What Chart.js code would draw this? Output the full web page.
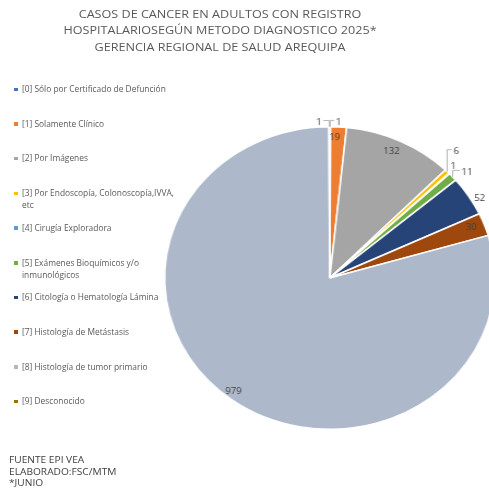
<!DOCTYPE html>
<html>
<head>
<meta charset="utf-8">
<script src="https://cdn.jsdelivr.net/npm/chart.js@4.4.1/dist/chart.umd.min.js"></script>
<style>
  body { margin: 0; width: 489px; height: 488px; overflow: hidden; background: #fff; position: relative; font-family: 'Open Sans', sans-serif; }
  #title { position: absolute; top: 6px; left: 20px; width: 400px; text-align: center; color: #595959; font-size: 10.5px; line-height: 16.3px; transform: scaleX(1.2); transform-origin: 200px 0; white-space: nowrap; }
  #wrap { position: absolute; left: 0; top: 0; width: 460px; height: 488px; transform: scaleX(1.092); transform-origin: 0 0; }
  #legend .item { position: absolute; left: 14px; width: 170px; font-size: 8.4px; line-height: 12px; color: #595959; }
  #legend .box { position: absolute; left: 0; top: 4.5px; width: 3.5px; height: 3.5px; }
  #legend .txt { position: absolute; left: 8px; width: 158px; }
  #footer { position: absolute; left: 9px; top: 454px; font-size: 9px; line-height: 11.5px; color: #404040; transform: scaleX(1.13); transform-origin: 0 0; }
</style>
</head>
<body>
<div id="wrap"><canvas id="pie"></canvas></div>
<div id="title">CASOS DE CANCER EN ADULTOS CON REGISTRO<br>HOSPITALARIOSEGÚN METODO DIAGNOSTICO 2025*<br>GERENCIA REGIONAL DE SALUD AREQUIPA</div>
<div id="legend"></div>
<div id="footer">FUENTE EPI VEA<br>ELABORADO:FSC/MTM<br>*JUNIO</div>
<script>
const categories = [
    '[0] Sólo por Certificado de Defunción',
    '[1] Solamente Clínico',
    '[2] Por Imágenes',
    '[3] Por Endoscopía, Colonoscopía,IVVA, etc',
    '[4] Cirugía Exploradora',
    '[5] Exámenes Bioquímicos y/o inmunológicos',
    '[6] Citología o Hematología Lámina',
    '[7] Histología de Metástasis',
    '[8] Histología de tumor primario',
    '[9] Desconocido'
];
const casos = [1, 19, 132, 6, 1, 11, 52, 30, 979, 1];
const colors = ['#4472C4', '#ED7D31', '#A5A5A5', '#FFC000', '#5B9BD5', '#70AD47', '#264478', '#9E480E', '#ADB9CA', '#997300'];

// where each value label sits: fraction of radius, shift in degrees, leader line
const labelRadius = [1.03, 0.93, 0.915, 1.133, 1.05, 1.085, 1.05, 0.92, 0.95, 1.03];
const labelShift = [2.8, -1.2, -1.0, -2.8, -0.9, 1.9, 2.5, -0.7, 1.2, -3.5];
const labelLeader = [true, false, false, true, false, true, false, false, false, true];

// legend
const legend = document.getElementById('legend');
categories.forEach((c, i) => {
    const item = document.createElement('div');
    item.className = 'item';
    item.style.top = (83 + i * 34.7) + 'px';
    item.innerHTML = '<span class="box" style="background:' + colors[i] + '"></span><span class="txt">' + c + '</span>';
    legend.appendChild(item);
});

const valueLabels = {
    id: 'valueLabels',
    afterDatasetsDraw(chart) {
        const ctx = chart.ctx;
        const arcs = chart.getDatasetMeta(0).data;
        ctx.save();
        ctx.font = "8.8px 'Open Sans', sans-serif";
        ctx.fillStyle = '#404040';
        ctx.strokeStyle = '#A6A6A6';
        ctx.lineWidth = 0.8;
        ctx.textAlign = 'center';
        ctx.textBaseline = 'middle';
        arcs.forEach((arc, i) => {
            const p = arc.getProps(['x', 'y', 'startAngle', 'endAngle', 'outerRadius'], true);
            const mid = (p.startAngle + p.endAngle) / 2;
            const a = mid + labelShift[i] * Math.PI / 180;
            const tx = p.x + Math.cos(a) * p.outerRadius * labelRadius[i];
            const ty = p.y + Math.sin(a) * p.outerRadius * labelRadius[i];
            const text = String(casos[i]);
            if (labelLeader[i]) {
                const ex = p.x + Math.cos(mid) * p.outerRadius;
                const ey = p.y + Math.sin(mid) * p.outerRadius;
                const w = ctx.measureText(text).width;
                const side = tx >= ex ? 1 : -1;
                ctx.beginPath();
                ctx.moveTo(ex, ey);
                ctx.lineTo(ex, ty - 2);
                ctx.lineTo(tx - side * (w / 2 + 1.5), ty - 2);
                ctx.stroke();
            }
            ctx.fillText(text, tx, ty);
        });
        ctx.restore();
    }
};

new Chart(document.getElementById('pie'), {
    type: 'pie',
    data: {
        labels: categories,
        datasets: [{
            data: casos,
            backgroundColor: colors,
            borderColor: '#ffffff',
            borderWidth: 1.5,
            hoverOffset: 0
        }]
    },
    options: {
        responsive: true,
        maintainAspectRatio: false,
        animation: false,
        layout: {
            padding: { left: 150, right: 6, top: 126, bottom: 58 }
        },
        plugins: {
            legend: { display: false },
            tooltip: { enabled: false }
        }
    },
    plugins: [valueLabels]
});
</script>
</body>
</html>
